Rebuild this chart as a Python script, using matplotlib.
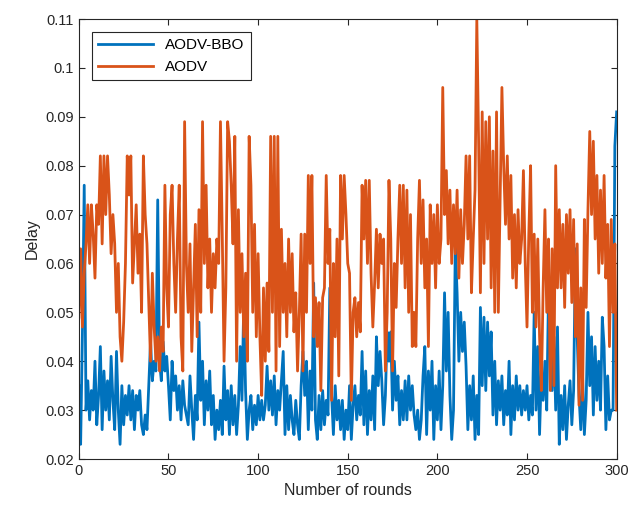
import numpy as np
import matplotlib
matplotlib.use("Agg")
import matplotlib.pyplot as plt
from matplotlib.ticker import FormatStrFormatter

plt.rcParams['font.family'] = ['Liberation Sans', 'DejaVu Sans']

# delay per round (rounds 0..300)
rounds = np.arange(0, 301)

aodv = [
    0.049, 0.063, 0.047, 0.058, 0.064, 0.072, 0.060, 0.072, 0.066, 0.057,  # 0
    0.072, 0.068, 0.082, 0.064, 0.082, 0.070, 0.082, 0.074, 0.062, 0.070,  # 10
    0.064, 0.050, 0.060, 0.045, 0.040, 0.048, 0.060, 0.082, 0.074, 0.082,  # 20
    0.056, 0.064, 0.072, 0.058, 0.066, 0.050, 0.082, 0.070, 0.064, 0.052,  # 30
    0.040, 0.058, 0.047, 0.040, 0.045, 0.038, 0.047, 0.042, 0.076, 0.055,  # 40
    0.047, 0.070, 0.076, 0.060, 0.050, 0.065, 0.076, 0.045, 0.038, 0.089,  # 50
    0.060, 0.050, 0.064, 0.042, 0.055, 0.068, 0.045, 0.071, 0.050, 0.089,  # 60
    0.060, 0.076, 0.055, 0.065, 0.050, 0.062, 0.055, 0.065, 0.060, 0.089,  # 70
    0.066, 0.040, 0.055, 0.089, 0.085, 0.076, 0.064, 0.086, 0.040, 0.071,  # 80
    0.050, 0.062, 0.045, 0.058, 0.040, 0.086, 0.076, 0.050, 0.068, 0.045,  # 90
    0.062, 0.045, 0.033, 0.055, 0.040, 0.056, 0.042, 0.086, 0.050, 0.086,  # 100
    0.038, 0.086, 0.043, 0.067, 0.050, 0.060, 0.045, 0.065, 0.050, 0.062,  # 110
    0.046, 0.054, 0.038, 0.050, 0.066, 0.038, 0.066, 0.050, 0.078, 0.060,  # 120
    0.078, 0.045, 0.053, 0.043, 0.052, 0.034, 0.053, 0.055, 0.078, 0.060,  # 130
    0.067, 0.032, 0.060, 0.045, 0.065, 0.037, 0.078, 0.065, 0.078, 0.070,  # 140
    0.060, 0.058, 0.032, 0.050, 0.053, 0.045, 0.052, 0.046, 0.076, 0.065,  # 150
    0.077, 0.060, 0.077, 0.058, 0.047, 0.056, 0.067, 0.055, 0.066, 0.060,  # 160
    0.065, 0.038, 0.050, 0.077, 0.065, 0.038, 0.060, 0.051, 0.065, 0.076,  # 170
    0.060, 0.076, 0.055, 0.075, 0.050, 0.070, 0.043, 0.050, 0.043, 0.065,  # 180
    0.077, 0.060, 0.073, 0.055, 0.065, 0.043, 0.072, 0.060, 0.070, 0.055,  # 190
    0.072, 0.060, 0.065, 0.096, 0.070, 0.079, 0.064, 0.075, 0.060, 0.072,  # 200
    0.062, 0.075, 0.057, 0.071, 0.060, 0.068, 0.082, 0.065, 0.082, 0.054,  # 210
    0.065, 0.075, 0.110, 0.085, 0.054, 0.091, 0.060, 0.089, 0.065, 0.090,  # 220
    0.055, 0.083, 0.050, 0.091, 0.050, 0.073, 0.096, 0.080, 0.068, 0.082,  # 230
    0.065, 0.078, 0.057, 0.070, 0.055, 0.071, 0.060, 0.065, 0.079, 0.060,  # 240
    0.047, 0.066, 0.080, 0.050, 0.066, 0.047, 0.065, 0.045, 0.034, 0.055,  # 250
    0.071, 0.050, 0.065, 0.034, 0.063, 0.035, 0.080, 0.055, 0.071, 0.055,  # 260
    0.068, 0.051, 0.070, 0.058, 0.071, 0.052, 0.069, 0.045, 0.064, 0.031,  # 270
    0.055, 0.032, 0.069, 0.051, 0.071, 0.087, 0.070, 0.085, 0.065, 0.078,  # 280
    0.058, 0.075, 0.060, 0.078, 0.057, 0.068, 0.043, 0.069, 0.050, 0.064,  # 290
    0.030,
]

aodv_bbo = [
    0.035, 0.023, 0.046, 0.076, 0.030, 0.036, 0.028, 0.034, 0.030, 0.040,  # 0
    0.027, 0.033, 0.043, 0.026, 0.038, 0.030, 0.036, 0.028, 0.041, 0.032,  # 10
    0.026, 0.042, 0.030, 0.023, 0.035, 0.027, 0.033, 0.029, 0.035, 0.028,  # 20
    0.034, 0.026, 0.033, 0.030, 0.034, 0.027, 0.025, 0.029, 0.026, 0.035,  # 30
    0.044, 0.036, 0.040, 0.038, 0.073, 0.040, 0.036, 0.044, 0.038, 0.041,  # 40
    0.035, 0.028, 0.040, 0.034, 0.037, 0.030, 0.035, 0.028, 0.036, 0.031,  # 50
    0.029, 0.027, 0.037, 0.030, 0.024, 0.033, 0.028, 0.048, 0.032, 0.040,  # 60
    0.027, 0.036, 0.030, 0.038, 0.027, 0.033, 0.024, 0.030, 0.026, 0.032,  # 70
    0.025, 0.039, 0.028, 0.034, 0.025, 0.035, 0.027, 0.033, 0.025, 0.031,  # 80
    0.043, 0.032, 0.052, 0.034, 0.024, 0.030, 0.033, 0.026, 0.031, 0.027,  # 90
    0.033, 0.028, 0.032, 0.028, 0.031, 0.039, 0.030, 0.036, 0.029, 0.037,  # 100
    0.027, 0.034, 0.030, 0.036, 0.042, 0.025, 0.035, 0.026, 0.033, 0.028,  # 110
    0.025, 0.032, 0.027, 0.024, 0.035, 0.042, 0.033, 0.040, 0.026, 0.038,  # 120
    0.030, 0.056, 0.028, 0.024, 0.033, 0.026, 0.034, 0.027, 0.032, 0.029,  # 130
    0.055, 0.033, 0.025, 0.035, 0.028, 0.032, 0.026, 0.032, 0.024, 0.030,  # 140
    0.026, 0.035, 0.024, 0.031, 0.035, 0.028, 0.033, 0.029, 0.042, 0.027,  # 150
    0.038, 0.025, 0.034, 0.028, 0.037, 0.026, 0.045, 0.035, 0.042, 0.036,  # 160
    0.027, 0.033, 0.046, 0.040, 0.046, 0.030, 0.040, 0.032, 0.037, 0.027,  # 170
    0.034, 0.028, 0.036, 0.028, 0.037, 0.030, 0.035, 0.029, 0.026, 0.030,  # 180
    0.024, 0.028, 0.037, 0.043, 0.025, 0.038, 0.030, 0.040, 0.024, 0.035,  # 190
    0.028, 0.038, 0.026, 0.035, 0.054, 0.038, 0.050, 0.033, 0.024, 0.030,  # 200
    0.064, 0.054, 0.040, 0.050, 0.042, 0.048, 0.039, 0.026, 0.035, 0.028,  # 210
    0.037, 0.024, 0.033, 0.025, 0.051, 0.035, 0.049, 0.034, 0.048, 0.037,  # 220
    0.046, 0.029, 0.040, 0.027, 0.036, 0.030, 0.037, 0.027, 0.034, 0.029,  # 230
    0.040, 0.025, 0.035, 0.028, 0.037, 0.030, 0.035, 0.029, 0.034, 0.030,  # 240
    0.035, 0.028, 0.033, 0.029, 0.050, 0.030, 0.043, 0.025, 0.038, 0.032,  # 250
    0.040, 0.030, 0.054, 0.047, 0.034, 0.045, 0.030, 0.047, 0.023, 0.033,  # 260
    0.026, 0.035, 0.024, 0.031, 0.036, 0.027, 0.034, 0.063, 0.045, 0.033,  # 270
    0.026, 0.037, 0.025, 0.032, 0.050, 0.035, 0.045, 0.029, 0.043, 0.032,  # 280
    0.040, 0.030, 0.049, 0.043, 0.026, 0.037, 0.028, 0.030, 0.030, 0.084,  # 290
    0.091,
]

fig = plt.figure(figsize=(6.41, 5.14), dpi=100)
ax = fig.add_axes([0.123, 0.107, 0.839, 0.856])

# MATLAB draws the second series on top
ax.plot(rounds, aodv_bbo, color='#0072BD', lw=2.0, label='AODV-BBO', zorder=2)
ax.plot(rounds, aodv, color='#D95319', lw=2.0, label='AODV', zorder=3)

ax.set_xlim(0, 300)
ax.set_ylim(0.02, 0.11)
ax.set_xticks(np.arange(0, 301, 50))
ax.set_yticks(np.arange(0.02, 0.111, 0.01))
ax.yaxis.set_major_formatter(FormatStrFormatter('%g'))
ax.tick_params(direction='in', top=True, right=True, length=4,
               labelsize=10.5, colors='#262626')
for s in ax.spines.values():
    s.set_color('#262626')
    s.set_linewidth(0.8)
    s.set_zorder(5)

ax.set_xlabel('Number of rounds', fontsize=11.5, color='#262626')
ax.set_ylabel('Delay', fontsize=11.5, color='#262626')

leg = ax.legend(loc='upper left', bbox_to_anchor=(0.024, 0.97), fontsize=11,
                handlelength=3.6, fancybox=False, framealpha=1,
                edgecolor='#262626', borderaxespad=0)
leg.get_frame().set_linewidth(0.8)

fig.savefig('out.png', dpi=100)
